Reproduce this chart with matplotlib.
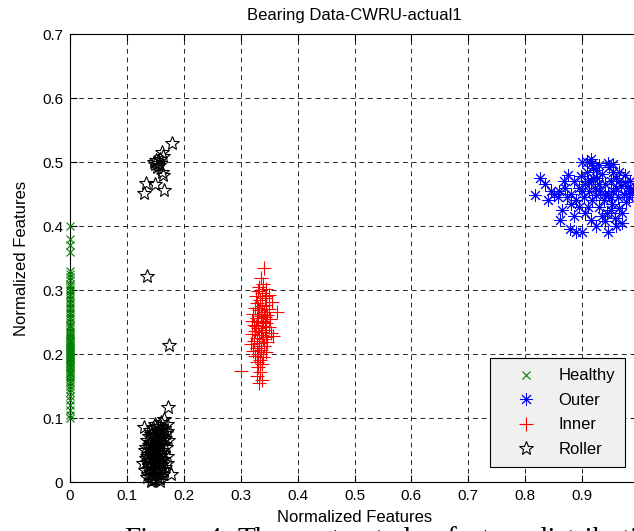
import matplotlib
matplotlib.use("Agg")
import matplotlib.pyplot as plt
from matplotlib.ticker import FuncFormatter

plt.rcParams["font.family"] = ["Liberation Sans", "DejaVu Sans"]

# Healthy: all on x = 0
healthy_y = [0.100, 0.105, 0.112, 0.120, 0.128, 0.135, 0.140, 0.145, 0.150, 0.155,
             0.158, 0.162, 0.165, 0.168, 0.170, 0.172, 0.175, 0.178, 0.180, 0.182,
             0.184, 0.186, 0.188, 0.190, 0.192, 0.194, 0.196, 0.198, 0.200, 0.202,
             0.204, 0.206, 0.208, 0.210, 0.212, 0.214, 0.216, 0.218, 0.220, 0.222,
             0.225, 0.228, 0.230, 0.233, 0.236, 0.240, 0.243, 0.246, 0.250, 0.254,
             0.258, 0.262, 0.266, 0.270, 0.274, 0.278, 0.282, 0.286, 0.290, 0.294,
             0.298, 0.302, 0.306, 0.310, 0.315, 0.320, 0.325, 0.330, 0.360, 0.370,
             0.380, 0.400]
healthy_x = [0.0] * len(healthy_y)

outer_pts = [(0.826, 0.475), (0.817, 0.448), (0.835, 0.465), (0.845, 0.455), (0.840, 0.440),
             (0.858, 0.445), (0.865, 0.425), (0.862, 0.410), (0.878, 0.395), (0.889, 0.390),
             (0.900, 0.390), (0.945, 0.390), (0.875, 0.480), (0.900, 0.500), (0.915, 0.505),
             (0.930, 0.495), (0.955, 0.497), (0.965, 0.485), (0.985, 0.470), (0.990, 0.458),
             (0.870, 0.460), (0.880, 0.450), (0.885, 0.470), (0.890, 0.440), (0.895, 0.460),
             (0.898, 0.478), (0.903, 0.445), (0.905, 0.465), (0.908, 0.485), (0.910, 0.430),
             (0.912, 0.455), (0.915, 0.470), (0.918, 0.440), (0.920, 0.490), (0.922, 0.460),
             (0.925, 0.448), (0.927, 0.475), (0.930, 0.430), (0.932, 0.455), (0.935, 0.482),
             (0.938, 0.440), (0.940, 0.465), (0.943, 0.420), (0.945, 0.450), (0.948, 0.492),
             (0.950, 0.470), (0.953, 0.435), (0.955, 0.455), (0.958, 0.412), (0.960, 0.475),
             (0.963, 0.445), (0.965, 0.428), (0.968, 0.462), (0.970, 0.405), (0.973, 0.450),
             (0.975, 0.480), (0.978, 0.438), (0.980, 0.460), (0.983, 0.445), (0.987, 0.452),
             (0.905, 0.420), (0.915, 0.410), (0.925, 0.400), (0.935, 0.415), (0.895, 0.430),
             (0.885, 0.415), (0.880, 0.435), (0.873, 0.445), (0.868, 0.470), (0.860, 0.455),
             (0.850, 0.450), (0.900, 0.455), (0.910, 0.470), (0.920, 0.475), (0.930, 0.465),
             (0.940, 0.450), (0.950, 0.445), (0.960, 0.460), (0.918, 0.498), (0.908, 0.500),
             (0.945, 0.498), (0.925, 0.488), (0.955, 0.485), (0.965, 0.470), (0.975, 0.468),
             (0.985, 0.455), (0.970, 0.420), (0.960, 0.400), (0.950, 0.425), (0.940, 0.408)]

inner_pts = [(0.341, 0.334), (0.336, 0.318), (0.339, 0.310), (0.333, 0.305), (0.345, 0.302),
             (0.330, 0.298), (0.338, 0.295), (0.350, 0.292), (0.327, 0.290), (0.342, 0.287),
             (0.334, 0.284), (0.355, 0.282), (0.329, 0.280), (0.345, 0.277), (0.338, 0.275),
             (0.325, 0.272), (0.350, 0.270), (0.333, 0.268), (0.341, 0.265), (0.364, 0.266),
             (0.322, 0.263), (0.347, 0.261), (0.336, 0.259), (0.328, 0.256), (0.352, 0.255),
             (0.340, 0.252), (0.331, 0.250), (0.345, 0.248), (0.323, 0.246), (0.337, 0.244),
             (0.349, 0.242), (0.330, 0.240), (0.342, 0.238), (0.326, 0.236), (0.336, 0.234),
             (0.354, 0.233), (0.320, 0.231), (0.333, 0.229), (0.345, 0.227), (0.357, 0.228),
             (0.328, 0.225), (0.339, 0.223), (0.324, 0.220), (0.347, 0.219), (0.333, 0.217),
             (0.318, 0.215), (0.341, 0.213), (0.329, 0.210), (0.336, 0.207), (0.322, 0.205),
             (0.344, 0.203), (0.331, 0.200), (0.326, 0.197), (0.339, 0.195), (0.334, 0.191),
             (0.328, 0.188), (0.337, 0.184), (0.331, 0.180), (0.300, 0.174), (0.334, 0.172),
             (0.329, 0.165), (0.332, 0.155), (0.338, 0.160), (0.340, 0.250), (0.335, 0.262),
             (0.330, 0.272), (0.343, 0.258), (0.327, 0.244), (0.338, 0.230), (0.320, 0.252),
             (0.345, 0.290), (0.332, 0.212)]

roller_pts = [(0.142, 0.002), (0.150, 0.004), (0.158, 0.001), (0.136, 0.008), (0.146, 0.010),
              (0.155, 0.007), (0.163, 0.012), (0.178, 0.012), (0.140, 0.015), (0.132, 0.018),
              (0.151, 0.016), (0.160, 0.020), (0.145, 0.022), (0.138, 0.025), (0.154, 0.026),
              (0.167, 0.024), (0.129, 0.030), (0.148, 0.030), (0.158, 0.032), (0.141, 0.034),
              (0.134, 0.037), (0.152, 0.038), (0.163, 0.036), (0.145, 0.041), (0.171, 0.040),
              (0.137, 0.044), (0.156, 0.045), (0.149, 0.048), (0.131, 0.050), (0.161, 0.050),
              (0.143, 0.052), (0.168, 0.054), (0.154, 0.056), (0.139, 0.058), (0.147, 0.060),
              (0.165, 0.060), (0.158, 0.063), (0.135, 0.065), (0.151, 0.067), (0.172, 0.066),
              (0.144, 0.070), (0.162, 0.071), (0.155, 0.074), (0.168, 0.076), (0.148, 0.078),
              (0.159, 0.080), (0.140, 0.082), (0.165, 0.084), (0.153, 0.086), (0.130, 0.086),
              (0.170, 0.090), (0.160, 0.093), (0.166, 0.098), (0.172, 0.117), (0.150, 0.090),
              (0.144, 0.003), (0.153, 0.012), (0.147, 0.005), (0.139, 0.020), (0.157, 0.018),
              (0.162, 0.028), (0.143, 0.028), (0.150, 0.034), (0.136, 0.031), (0.156, 0.040),
              (0.142, 0.046), (0.164, 0.046), (0.133, 0.055), (0.150, 0.053), (0.158, 0.058),
              (0.141, 0.063), (0.155, 0.064), (0.167, 0.068), (0.138, 0.072), (0.150, 0.073),
              (0.161, 0.077), (0.145, 0.084), (0.156, 0.088), (0.163, 0.066), (0.146, 0.057),
              (0.137, 0.012), (0.165, 0.018), (0.159, 0.006), (0.135, 0.040), (0.170, 0.030),
              (0.152, 0.022), (0.148, 0.042), (0.160, 0.042), (0.143, 0.075), (0.170, 0.080),
              (0.155, 0.081), (0.140, 0.050),
              # upper group and strays
              (0.179, 0.530), (0.130, 0.451), (0.134, 0.467), (0.149, 0.465), (0.165, 0.456),
              (0.147, 0.500), (0.151, 0.503), (0.155, 0.498), (0.158, 0.505), (0.161, 0.515),
              (0.163, 0.510), (0.153, 0.492), (0.161, 0.485), (0.163, 0.480), (0.150, 0.497),
              (0.157, 0.495), (0.135, 0.322), (0.174, 0.214)]

x_ticks = [0, 0.1, 0.2, 0.3, 0.4, 0.5, 0.6, 0.7, 0.8, 0.9]
y_ticks = [0, 0.1, 0.2, 0.3, 0.4, 0.5, 0.6, 0.7]

# caption below the figure, only its top shows (justified words in the source)
caption_words = ["Figure", "4.", "The", "extracted", "feature", "distribution"]
caption_x_px = [124, 206, 237, 305, 446, 533]

fig = plt.figure(figsize=(6.34, 5.31), dpi=100)
ax = fig.add_axes([70 / 634, 1 - 482 / 531, 569 / 634, 448 / 531])

ax.plot(healthy_x, healthy_y, linestyle="none", marker="x", color=(0, 0.5, 0),
        markersize=6, markeredgewidth=0.8, label="Healthy", clip_on=False, zorder=3)
ax.plot([p[0] for p in outer_pts], [p[1] for p in outer_pts], linestyle="none",
        marker=(8, 2, 0), color="blue", markersize=9, markeredgewidth=0.7,
        label="Outer", clip_on=False, zorder=3)
ax.plot([p[0] for p in inner_pts], [p[1] for p in inner_pts], linestyle="none",
        marker="+", color="red", markersize=10, markeredgewidth=0.8,
        label="Inner", clip_on=False, zorder=3)
ax.plot([p[0] for p in roller_pts], [p[1] for p in roller_pts], linestyle="none",
        marker="*", markerfacecolor="none", markeredgecolor="black", markersize=10,
        markeredgewidth=0.8, label="Roller", clip_on=False, zorder=3)

ax.set_xlim(0, 1)
ax.set_ylim(0, 0.7)
ax.set_xticks(x_ticks)
ax.set_yticks(y_ticks)
fmt = FuncFormatter(lambda v, p: "0" if v == 0 else ("%.1f" % v))
ax.xaxis.set_major_formatter(fmt)
ax.yaxis.set_major_formatter(fmt)
ax.tick_params(direction="in", length=5, width=0.8, top=True, right=True,
               labelsize=11, pad=5, colors="black")
ax.grid(True, color="0.15", linestyle=(0, (5, 4)), linewidth=0.7)
for s in ax.spines.values():
    s.set_linewidth(0.8)

ax.set_title("Bearing Data-CWRU-actual1", fontsize=12, pad=10)
ax.set_xlabel("Normalized Features", fontsize=12, labelpad=5)
ax.set_ylabel("Normalized Features", fontsize=12, labelpad=9)

leg = ax.legend(loc="lower right", bbox_to_anchor=(0.975, 0.0335), borderaxespad=0,
                fancybox=False, framealpha=1, edgecolor="black", facecolor="0.94",
                fontsize=12, handletextpad=0.4, labelspacing=0.57, borderpad=0.6,
                handlelength=3.1)
leg.get_frame().set_linewidth(0.8)

for w, xp in zip(caption_words, caption_x_px):
    fig.text(xp / 634, -0.031, w, fontsize=21, family="Liberation Serif",
             ha="left", va="baseline")

fig.savefig("out.png", dpi=100)
